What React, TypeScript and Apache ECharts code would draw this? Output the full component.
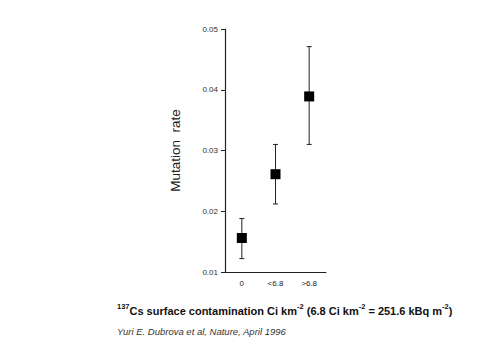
import React, { useEffect, useRef } from "react";
import * as echarts from "echarts";

const categories = ["0", "<6.8", ">6.8"];
const rates = [0.0156, 0.0261, 0.0389];
const lowerBounds = [0.0122, 0.0212, 0.031];
const upperBounds = [0.0188, 0.031, 0.0471];
const yTicks = { min: 0.01, max: 0.05, interval: 0.01 };

export default function App() {
  const ref = useRef<HTMLDivElement>(null);
  useEffect(() => {
    if (!ref.current) return;
    const chart = echarts.init(ref.current, null, { renderer: "svg" });
    const font = "'Liberation Sans', Arial, sans-serif";
    chart.setOption({
      animation: false,
      backgroundColor: "#ffffff",
      grid: { left: 225, top: 29, width: 101, bottom: 80, containLabel: false },
      xAxis: {
        type: "category",
        data: categories,
        boundaryGap: true,
        axisLine: { lineStyle: { color: "#222", width: 1 } },
        axisTick: { alignWithLabel: true, length: 4, lineStyle: { color: "#222" } },
        axisLabel: { color: "#222", fontSize: 8, fontFamily: font, margin: 7 },
        splitLine: { show: false },
      },
      yAxis: {
        type: "value",
        min: yTicks.min,
        max: yTicks.max,
        interval: yTicks.interval,
        name: "Mutation  rate",
        nameLocation: "middle",
        nameGap: 43,
        nameTextStyle: { color: "#222", fontSize: 13.5, fontFamily: font },
        axisLine: { show: true, lineStyle: { color: "#222", width: 1.2 } },
        axisTick: { show: true, length: 4, lineStyle: { color: "#222" } },
        axisLabel: {
          color: "#333",
          fontSize: 8,
          fontFamily: font,
          margin: 7,
          formatter: (v: number) => v.toFixed(2),
        },
        splitLine: { show: false },
      },
      series: [
        {
          type: "custom",
          data: categories.map((_, i) => [i, lowerBounds[i], upperBounds[i]]),
          renderItem: (params: any, api: any) => {
            const x = api.value(0);
            const lo = api.coord([x, api.value(1)]);
            const hi = api.coord([x, api.value(2)]);
            const hw = 2.5;
            const style = { stroke: "#222", lineWidth: 1 };
            return {
              type: "group",
              children: [
                { type: "line", shape: { x1: lo[0], y1: lo[1], x2: hi[0], y2: hi[1] }, style },
                { type: "line", shape: { x1: lo[0] - hw, y1: lo[1], x2: lo[0] + hw, y2: lo[1] }, style },
                { type: "line", shape: { x1: hi[0] - hw, y1: hi[1], x2: hi[0] + hw, y2: hi[1] }, style },
              ],
            };
          },
          z: 2,
        },
        {
          type: "scatter",
          data: rates,
          symbol: "rect",
          symbolSize: 10,
          itemStyle: { color: "#000", opacity: 1 },
          z: 3,
        },
      ],
      graphic: [
        {
          type: "text",
          left: 117,
          top: 302,
          style: {
            text:
              "{sup|137}{b|Cs surface contamination Ci km}{sup|-2}{b| (6.8 Ci km}{sup|-2}{b| = 251.6 kBq m}{sup|-2}{b|)}",
            rich: {
              b: { fontSize: 11, fontWeight: "bold", fontFamily: font, fill: "#111", lineHeight: 14, verticalAlign: "bottom" },
              sup: { fontSize: 7.5, fontWeight: "bold", fontFamily: font, fill: "#111", lineHeight: 14, verticalAlign: "top", padding: [0, 0, 4, 0] },
            },
          },
        },
        {
          type: "text",
          left: 117,
          top: 326,
          style: {
            text: "Yuri E. Dubrova et al, Nature, April 1996",
            fontSize: 9.5,
            fontStyle: "italic",
            fontFamily: font,
            fill: "#333",
          },
        },
      ],
    });
    return () => chart.dispose();
  }, []);
  return <div ref={ref} style={{ width: 495, height: 352, position: "absolute", left: 0, top: 0 }} />;
}
